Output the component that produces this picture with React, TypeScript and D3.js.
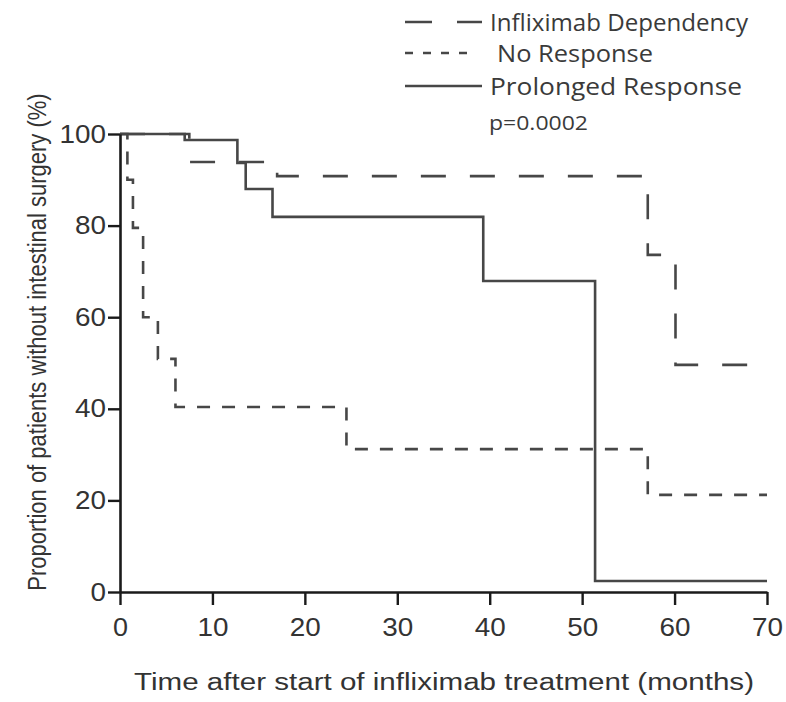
import { useEffect, useRef } from 'react';
import * as d3 from 'd3';

// Kaplan-Meier curves (months, % without surgery)
const depTimes = [0, 7.5, 17, 57.1, 60.1, 70];
const depValues = [100, 93.9, 90.8, 73.6, 49.6, 49.6];

const noRespTimes = [0, 0.8, 1.4, 2.5, 4.1, 6.0, 24.5, 57.1, 70];
const noRespValues = [100, 90, 79.5, 60, 50.9, 40.4, 31.2, 21.2, 21.2];

const prolTimes = [0, 7.0, 12.7, 13.6, 16.5, 39.3, 51.4, 70];
const prolValues = [100, 98.7, 93.7, 88, 81.9, 67.9, 2.4, 2.4];

const xTicks = [0, 10, 20, 30, 40, 50, 60, 70];
const yTicks = [0, 20, 40, 60, 80, 100];

const legendLabels = ['Infliximab Dependency', 'No Response', 'Prolonged Response'];
const pValueText = 'p=0.0002';

export default function App() {
    const svgRef = useRef<SVGSVGElement>(null);

    useEffect(() => {
        if (!svgRef.current) return;
        const svg = d3.select(svgRef.current);
        svg.selectAll('*').remove();

        const x = d3.scaleLinear().domain([0, 70]).range([120, 767]);
        const y = d3.scaleLinear().domain([0, 100]).range([592, 134]);

        const axisFont = "'Liberation Sans', Arial, sans-serif";
        const legendFont = "'Open Sans', 'Noto Sans', sans-serif";
        const lineColor = '#474747';

        // courbes
        const series = [
            { t: depTimes, v: depValues, dash: '25,24' },
            { t: noRespTimes, v: noRespValues, dash: '13,12' },
            { t: prolTimes, v: prolValues, dash: null as string | null },
        ];

        const line = d3.line<[number, number]>()
            .x(d => x(d[0]))
            .y(d => y(d[1]))
            .curve(d3.curveStepAfter);

        series.forEach(s => {
            const pts: [number, number][] = s.t.map((t, i) => [t, s.v[i]]);
            svg.append('path')
                .datum(pts)
                .attr('fill', 'none')
                .attr('stroke', lineColor)
                .attr('stroke-width', 2.6)
                .attr('stroke-dasharray', s.dash)
                .attr('d', line);
        });

        // axes
        const gx = svg.append('g')
            .attr('transform', `translate(0,${y(0)})`)
            .call(d3.axisBottom(x).tickValues(xTicks).tickSize(13).tickPadding(13).tickSizeOuter(0));
        const gy = svg.append('g')
            .attr('transform', `translate(${x(0)},0)`)
            .call(d3.axisLeft(y).tickValues(yTicks).tickSize(12).tickPadding(2).tickSizeOuter(0));

        [gx, gy].forEach(g => {
            g.select('.domain').attr('stroke', '#1a1a1a').attr('stroke-width', 2.6);
            g.selectAll('.tick line').attr('stroke', '#1a1a1a').attr('stroke-width', 2.4);
            g.selectAll('.tick text')
                .attr('fill', '#333')
                .style('font-family', axisFont)
                .style('font-size', '25px');
        });
        gx.selectAll('.tick text').attr('textLength', (d: any) => (String(d).length === 1 ? 15 : 31)).attr('lengthAdjust', 'spacingAndGlyphs');
        gy.selectAll('.tick text').attr('textLength', (d: any) => String(d).length * 15.5).attr('lengthAdjust', 'spacingAndGlyphs');

        // titres des axes
        svg.append('text')
            .attr('x', 444)
            .attr('y', 690)
            .attr('text-anchor', 'middle')
            .attr('fill', '#333')
            .attr('textLength', 620)
            .attr('lengthAdjust', 'spacingAndGlyphs')
            .style('font-family', axisFont)
            .style('font-size', '23px')
            .text('Time after start of infliximab treatment (months)');

        svg.append('text')
            .attr('transform', 'translate(46,342) scale(1.2,1) rotate(-90)')
            .attr('text-anchor', 'middle')
            .attr('fill', '#333')
            .style('font-family', axisFont)
            .style('font-size', '22px')
            .text('Proportion of patients without intestinal surgery (%)');

        // légende
        const legendDash = ['27,25', '8,10', null];
        const rowY = [22, 53, 86];
        const textWidths = [258, 156, 252];
        legendLabels.forEach((label, i) => {
            svg.append('line')
                .attr('x1', 405).attr('x2', i === 1 ? 470 : 482)
                .attr('y1', rowY[i]).attr('y2', rowY[i])
                .attr('stroke', lineColor)
                .attr('stroke-width', 2.6)
                .attr('stroke-dasharray', legendDash[i]);
            svg.append('text')
                .attr('x', i === 1 ? 497 : 490)
                .attr('y', rowY[i] + 9)
                .attr('fill', '#3a3a3a')
                .attr('textLength', textWidths[i])
                .attr('lengthAdjust', 'spacingAndGlyphs')
                .style('font-family', legendFont)
                .style('font-size', '24px')
                .text(label);
        });
        svg.append('text')
            .attr('x', 489)
            .attr('y', 130)
            .attr('fill', '#3a3a3a')
            .attr('textLength', 99)
            .attr('lengthAdjust', 'spacingAndGlyphs')
            .style('font-family', legendFont)
            .style('font-size', '20px')
            .text(pValueText);
    }, []);

    return (
        <svg
            ref={svgRef}
            width={786}
            height={702}
            style={{ position: 'absolute', left: 0, top: 0, background: '#fff' }}
        />
    );
}
